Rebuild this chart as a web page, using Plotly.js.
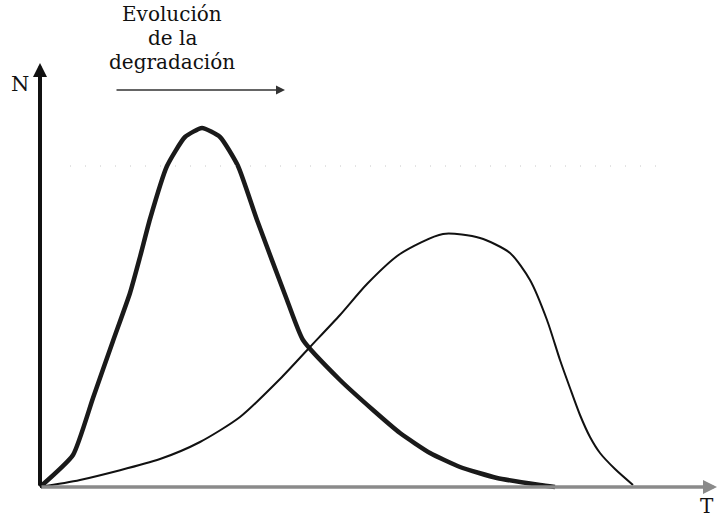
<!DOCTYPE html>
<html>
<head>
<meta charset="utf-8">
<script src="https://cdn.plot.ly/plotly-3.0.1.min.js"></script>
<style>html,body{margin:0;padding:0;background:#fff;}#chart{width:718px;height:520px;}</style>
</head>
<body>
<div id="chart"></div>
<script>
// Curve 1: early, narrow distribution (T, N)
const curve1T = [0, 33, 53, 73, 90, 100, 110, 127, 145, 162, 180, 198, 217, 247, 263, 300, 333, 360, 390, 420, 457, 500, 515];
const curve1N = [0, 32, 89, 146, 194, 230, 268, 321, 350, 359, 350, 321, 267, 187, 147, 107, 77, 54, 34, 20, 9, 2, 0];
// Curve 2: later, broader distribution (T, N)
const curve2T = [0, 40, 120, 160, 200, 240, 270, 300, 327, 360, 403, 440, 470, 490, 507, 520, 530, 540, 550, 560, 575, 593];
const curve2N = [0, 7, 28, 45, 70, 108, 140, 172, 203, 233, 253, 249, 234, 207, 167, 127, 99, 72, 50, 34, 18, 2];
const titleLines = ['Evolución', 'de la', 'degradación'];
const axisLabels = {y: 'N', x: 'T'};

const traces = [
  {x: curve1T, y: curve1N, mode: 'lines', line: {color: '#1a1a1a', width: 4.5, shape: 'spline', smoothing: 0.5}, hoverinfo: 'skip'},
  {x: curve2T, y: curve2N, mode: 'lines', line: {color: '#111', width: 2, shape: 'spline', smoothing: 0.7}, hoverinfo: 'skip'}
];

const serif = 'DejaVu Serif';
const annotations = [];
const baselines = [459, 435, 411];
titleLines.forEach((t, i) => annotations.push({
  x: 132, y: baselines[i], xref: 'x', yref: 'y', text: t, showarrow: false,
  xanchor: 'center', yanchor: 'bottom', font: {family: serif, size: 20, color: '#111'}
}));
// degradation arrow
annotations.push({x: 245, y: 397, ax: 75, ay: 397, xref: 'x', yref: 'y', axref: 'x', ayref: 'y',
  text: '', showarrow: true, arrowhead: 2, arrowsize: 1.2, arrowwidth: 1.5, arrowcolor: '#333'});
// axes
annotations.push({x: 0, y: 424, ax: 0, ay: 0, xref: 'x', yref: 'y', axref: 'x', ayref: 'y',
  text: '', showarrow: true, arrowhead: 2, arrowsize: 0.7, arrowwidth: 4, arrowcolor: '#111'});
annotations.push({x: 677, y: 0, ax: 0, ay: 0, xref: 'x', yref: 'y', axref: 'x', ayref: 'y',
  text: '', showarrow: true, arrowhead: 2, arrowsize: 0.8, arrowwidth: 3.5, arrowcolor: '#8a8a8a'});
annotations.push({x: -20, y: 403, xref: 'x', yref: 'y', text: axisLabels.y, showarrow: false,
  xanchor: 'center', yanchor: 'middle', font: {family: serif, size: 21, color: '#111'}});
annotations.push({x: 667, y: -19, xref: 'x', yref: 'y', text: axisLabels.x, showarrow: false,
  xanchor: 'center', yanchor: 'middle', font: {family: serif, size: 20, color: '#111'}});

const layout = {
  width: 718, height: 520,
  margin: {l: 0, r: 0, t: 0, b: 0},
  paper_bgcolor: '#fff', plot_bgcolor: '#fff',
  showlegend: false,
  xaxis: {range: [-40, 678], visible: false, fixedrange: true},
  yaxis: {range: [-33, 487], visible: false, fixedrange: true},
  shapes: [
    {type: 'line', xref: 'x', yref: 'y', x0: 30, x1: 630, y0: 321, y1: 321,
     line: {color: '#c8c8c8', width: 1, dash: '1px,14px'}}
  ],
  annotations: annotations
};

Plotly.newPlot('chart', traces, layout, {displayModeBar: false, staticPlot: true});
</script>
</body>
</html>
